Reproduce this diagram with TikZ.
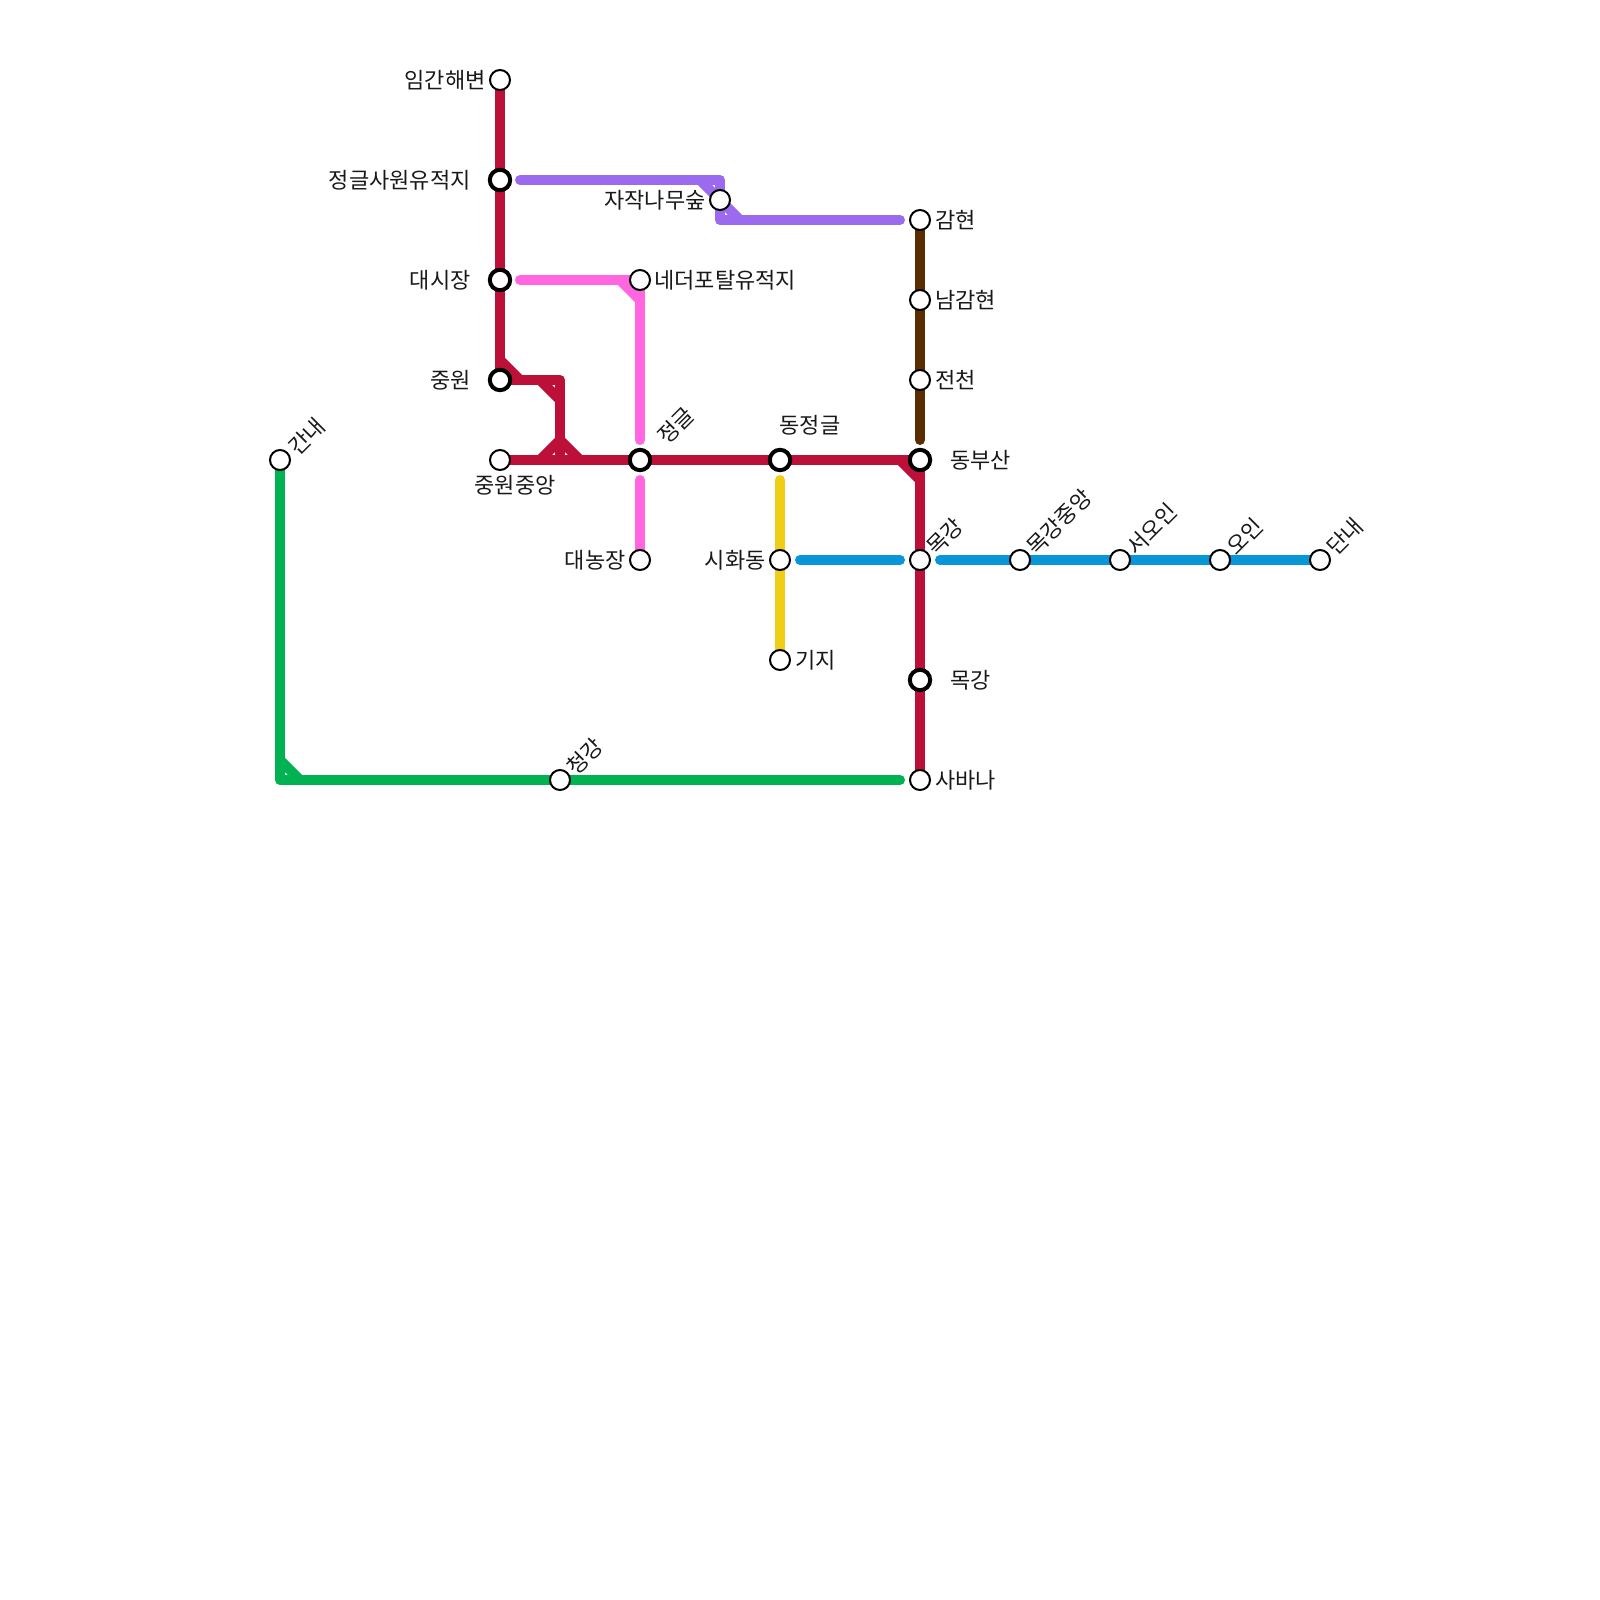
\documentclass[tikz,border=0pt]{standalone}
\usepackage{fontspec}
\setmainfont{Noto Sans CJK KR}
\definecolor{cred}{HTML}{BD1038}
\definecolor{cblue}{HTML}{0896D7}
\definecolor{cgreen}{HTML}{00B251}
\definecolor{cyellow}{HTML}{F0CE15}
\definecolor{cbrown}{HTML}{5A2D00}
\definecolor{cpurple}{HTML}{9B6AEE}
\definecolor{cpink}{HTML}{FF66E0}
\tikzset{
  x=0.5pt,y=-0.5pt,
  metro/.style={line width=5pt,line join=round,line cap=round},
  stn/.style={circle,draw=black,fill=white,line width=1pt,minimum size=10pt,inner sep=0pt,outer sep=0pt},
  hub/.style={circle,draw=black,fill=white,line width=2pt,minimum size=10.2pt,inner sep=0pt,outer sep=0pt},
  lbl/.style={font=\fontsize{11pt}{13pt}\selectfont,inner sep=0pt,text=black!90},
  lw/.style={lbl,anchor=east},
  le/.style={lbl,anchor=west},
  lr/.style={lbl,anchor=west,rotate=45},
}
\begin{document}
\begin{tikzpicture}
\useasboundingbox (0,0) rectangle (1600,1600);
% coordinates
\foreach \n/\x/\y in {r1/500/360,r2/520/380,r3/500/380,r4/540/380,r5/560/400,r6/560/380,r7/560/440,r8/540/460,r9/580/460,r10/900/460,r11/920/480,
 p1/520/180,p2/720/180,p3/700/180,p4/740/220,p5/720/220,p6/900/220,
 k1/520/280,k2/620/280,k3/640/300,k4/640/440,k5/640/480,
 b1/800/560,b2/900/560,b3/940/560,br/920/440,y1/780/480,
 g1/280/760,g2/300/780,g3/280/780,g4/900/780}
  \coordinate (\n) at (\x,\y);
% stations positions
\foreach \n/\x/\y in {s1/500/80,s2/500/180,s3/500/280,s4/500/380,s5/500/460,s6/280/460,s7/640/280,s8/640/460,s9/640/560,s10/780/460,s11/780/560,s12/780/660,s13/920/220,s14/920/300,s15/920/380,s16/920/460,s17/920/560,s18/920/680,s19/920/780,s20/1020/560,s21/1120/560,s22/1220/560,s23/1320/560,s24/560/780,s25/720/200}
  \coordinate (c\n) at (\x,\y);
% lines
\draw[metro,cred] (cs1) -- (r3) -- (r6) -- (cs5 -| r6);
\draw[metro,cred] (r1) -- (r2);
\draw[metro,cred] (r4) -- (r5);
\draw[metro,cred] (r8) -- (r7) -- (r9);
\draw[metro,cred] (cs5) -- (cs16) -- (cs19);
\draw[metro,cred] (r10) -- (r11);
\draw[metro,cpurple] (p1) -- (p2) -- (p5) -- (p6);
\draw[metro,cpurple] (p3) -- (p4);
\draw[metro,cpink] (k1) -- (cs7) -- (k4);
\draw[metro,cpink] (k2) -- (k3);
\draw[metro,cpink] (k5) -- (cs9);
\draw[metro,cbrown] (cs13) -- (br);
\draw[metro,cyellow] (y1) -- (cs12);
\draw[metro,cblue] (b1) -- (b2);
\draw[metro,cblue] (b3) -- (cs23);
\draw[metro,cgreen] (cs6) -- (g3) -- (g4);
\draw[metro,cgreen] (g1) -- (g2);
% stations
\node[stn] (s1) at (cs1) {};
\node[hub] (s2) at (cs2) {};
\node[hub] (s3) at (cs3) {};
\node[hub] (s4) at (cs4) {};
\node[stn] (s5) at (cs5) {};
\node[stn] (s6) at (cs6) {};
\node[stn] (s7) at (cs7) {};
\node[hub] (s8) at (cs8) {};
\node[stn] (s9) at (cs9) {};
\node[hub] (s10) at (cs10) {};
\node[stn] (s11) at (cs11) {};
\node[stn] (s12) at (cs12) {};
\node[stn] (s13) at (cs13) {};
\node[stn] (s14) at (cs14) {};
\node[stn] (s15) at (cs15) {};
\node[hub] (s16) at (cs16) {};
\node[stn] (s17) at (cs17) {};
\node[hub] (s18) at (cs18) {};
\node[stn] (s19) at (cs19) {};
\node[stn] (s20) at (cs20) {};
\node[stn] (s21) at (cs21) {};
\node[stn] (s22) at (cs22) {};
\node[stn] (s23) at (cs23) {};
\node[stn] (s24) at (cs24) {};
\node[stn] (s25) at (cs25) {};
% labels
\node[lw] (t1) at (486,80) {임간해변};
\node[lw] (t2) at (471,180) {정글사원유적지};
\node[lw] (t3) at (471,280) {대시장};
\node[lw] (t4) at (471,380) {중원};
\node[lbl] (t5) at (515,485) {중원중앙};
\node[lr] (t6) at (292,451) {간내};
\node[le] (t7) at (654,280) {네더포탈유적지};
\node[lr] (t8) at (661,440) {정글};
\node[lw] (t9) at (626,560) {대농장};
\node[lbl] (t10) at (810,425) {동정글};
\node[lw] (t11) at (766,560) {시화동};
\node[le] (t12) at (795,660) {기지};
\node[le] (t13) at (935,220) {감현};
\node[le] (t14) at (935,300) {남감현};
\node[le] (t15) at (935,380) {전천};
\node[le] (t16) at (950,460) {동부산};
\node[lr] (t17) at (930,551) {목강};
\node[le] (t18) at (950,680) {목강};
\node[le] (t19) at (935,780) {사바나};
\node[lr] (t20) at (1030,551) {목강중앙};
\node[lr] (t21) at (1130,551) {서오인};
\node[lr] (t22) at (1230,551) {오인};
\node[lr] (t23) at (1330,551) {단내};
\node[lr] (t24) at (570,771) {청강};
\node[lw] (t25) at (706,200) {자작나무숲};
\end{tikzpicture}
\end{document}
